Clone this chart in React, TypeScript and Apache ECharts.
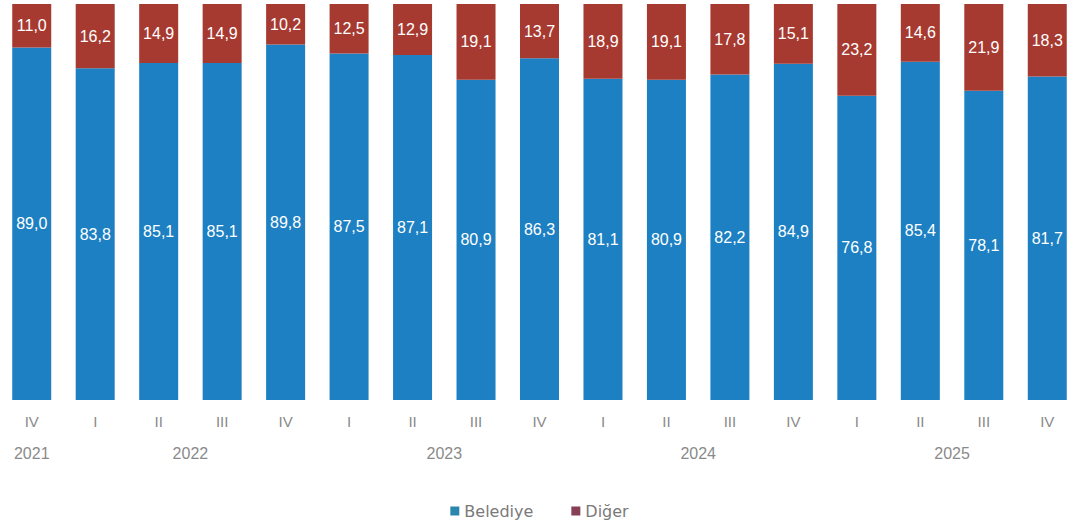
import React, { useEffect, useRef } from "react";
import * as echarts from "echarts";

const quarters = ["IV", "I", "II", "III", "IV", "I", "II", "III", "IV", "I", "II", "III", "IV", "I", "II", "III", "IV"];
const yearLabels = ["2021", "2022", "2023", "2024", "2025"];
const yearPositions = [0, 2.5, 6.5, 10.5, 14.5];
const belediye = [89.0, 83.8, 85.1, 85.1, 89.8, 87.5, 87.1, 80.9, 86.3, 81.1, 80.9, 82.2, 84.9, 76.8, 85.4, 78.1, 81.7];
const diger = [11.0, 16.2, 14.9, 14.9, 10.2, 12.5, 12.9, 19.1, 13.7, 18.9, 19.1, 17.8, 15.1, 23.2, 14.6, 21.9, 18.3];

const fmt = (v: number) => v.toFixed(1).replace(".", ",");
const FONT = "Liberation Sans, Arial, sans-serif";

export default function App() {
  const ref = useRef<HTMLDivElement>(null);
  useEffect(() => {
    if (!ref.current) return;
    const chart = echarts.init(ref.current, null, { renderer: "svg" });
    const labelStyle = {
      show: true,
      position: "inside" as const,
      color: "#ffffff",
      fontSize: 16,
      fontFamily: FONT,
      formatter: (p: any) => fmt(p.value),
    };
    chart.setOption({
      animation: false,
      backgroundColor: "#ffffff",
      grid: { left: -2, right: -12, top: 4, bottom: 123, containLabel: false },
      legend: {
        top: 497,
        left: "center",
        icon: "rect",
        itemWidth: 9,
        itemHeight: 9,
        itemGap: 38,
        textStyle: { color: "#7a7a7a", fontSize: 16, lineHeight: 18, fontFamily: "DejaVu Sans" },
        data: [
          { name: "Belediye", itemStyle: { color: "#2b86ad" } },
          { name: "Diğer", itemStyle: { color: "#854055" } },
        ],
      },
      xAxis: [
        {
          type: "category",
          data: quarters,
          axisLine: { show: false },
          axisTick: { show: false },
          axisLabel: { color: "#8a8a8a", fontSize: 15, margin: 14, fontFamily: FONT },
        },
        {
          type: "value",
          position: "bottom",
          min: -0.5,
          max: 16.5,
          offset: 31,
          axisLine: { show: false },
          axisTick: { show: false },
          splitLine: { show: false },
          axisLabel: {
            color: "#8a8a8a",
            fontSize: 16,
            margin: 14,
            fontFamily: FONT,
            customValues: yearPositions,
            formatter: (v: number) => {
              const i = yearPositions.indexOf(v);
              return i >= 0 ? yearLabels[i] : "";
            },
          },
        },
      ],
      yAxis: { type: "value", min: 0, max: 100, show: false },
      series: [
        {
          name: "Belediye",
          type: "bar",
          stack: "total",
          barWidth: 39,
          data: belediye,
          itemStyle: { color: "#1d80c2" },
          label: labelStyle,
        },
        {
          name: "Diğer",
          type: "bar",
          stack: "total",
          barWidth: 39,
          data: diger,
          itemStyle: { color: "#a63a31" },
          label: labelStyle,
        },
      ],
    });
    return () => chart.dispose();
  }, []);
  return (
    <div
      ref={ref}
      style={{ position: "absolute", left: 0, top: 0, width: 1079, height: 523 }}
    />
  );
}
